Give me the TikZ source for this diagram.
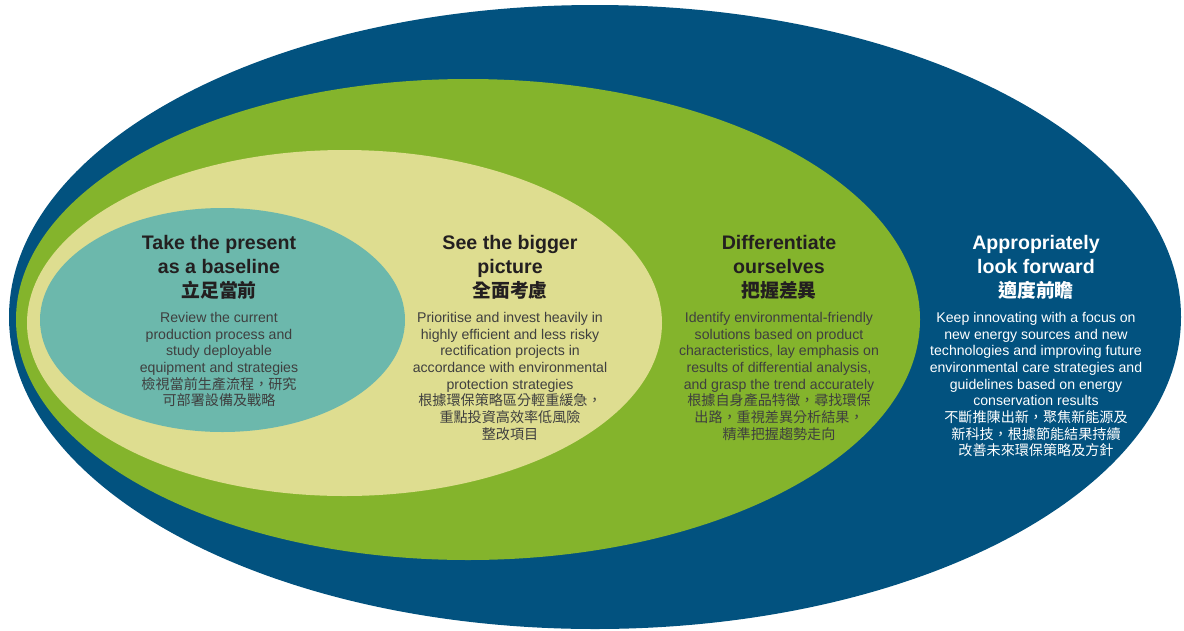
\documentclass[tikz,border=0pt]{standalone}
\usepackage{fontspec}
\setmainfont{Liberation Sans}
\newfontfamily\cjk{Noto Sans CJK TC}
\usetikzlibrary{positioning}

\definecolor{deepblue}{HTML}{02527F}
\definecolor{leafgreen}{HTML}{84B42C}
\definecolor{paleyellow}{HTML}{DEDD90}
\definecolor{seateal}{HTML}{6CB8AC}
\definecolor{inkgray}{HTML}{3F3F3F}
\definecolor{titleink}{HTML}{231F20}

\newcommand{\cjktitle}[1]{{\cjk\fontsize{18.8}{24}\selectfont #1}}

\begin{document}
\begin{tikzpicture}[x=1pt,y=-1pt,
	heading/.style={align=center,inner sep=0pt,anchor=north,text=titleink,
		font=\fontsize{19.6}{24}\selectfont\bfseries},
	blurb/.style={align=center,inner sep=0pt,text=inkgray,
		font=\fontsize{14.1}{16.7}\selectfont},
	onblue/.style={text=white}
	]
\useasboundingbox [fill=white] (0,0) rectangle (1184,630);

% the four rings, outside in
\fill [deepblue] (595,317) ellipse [x radius=586, y radius=312];
\fill [leafgreen] (468,319.5) ellipse [x radius=452, y radius=240.5];
\fill [paleyellow] (344.5,323) ellipse [x radius=317.5, y radius=173];
\fill [seateal] (222.5,320) ellipse [x radius=182.5, y radius=112];

\node [heading] (t1) at (219,235) {Take the present\\as a baseline\\\cjktitle{立足當前}};
\node [blurb] (b1) [below = 12.5pt of t1] {Review the current\\production process and\\study deployable\\equipment and strategies\\{\cjk 檢視當前生產流程，研究}\\{\cjk 可部署設備及戰略}};

\node [heading] (t2) at (510,235) {See the bigger\\picture\\\cjktitle{全面考慮}};
\node [blurb] (b2) [below = 12.5pt of t2] {Prioritise and invest heavily in\\highly efficient and less risky\\rectification projects in\\accordance with environmental\\protection strategies\\{\cjk 根據環保策略區分輕重緩急，}\\{\cjk 重點投資高效率低風險}\\{\cjk 整改項目}};

\node [heading] (t3) at (779,235) {Differentiate\\ourselves\\\cjktitle{把握差異}};
\node [blurb] (b3) [below = 12.5pt of t3] {Identify environmental-friendly\\solutions based on product\\characteristics, lay emphasis on\\results of differential analysis,\\and grasp the trend accurately\\{\cjk 根據自身產品特徵，尋找環保}\\{\cjk 出路，重視差異分析結果，}\\{\cjk 精準把握趨勢走向}};

\node [heading,onblue] (t4) at (1036,235) {Appropriately\\look forward\\\cjktitle{適度前瞻}};
\node [blurb,onblue] (b4) [below = 12.5pt of t4] {Keep innovating with a focus on\\new energy sources and new\\technologies and improving future\\environmental care strategies and\\guidelines based on energy\\conservation results\\{\cjk 不斷推陳出新，聚焦新能源及}\\{\cjk 新科技，根據節能結果持續}\\{\cjk 改善未來環保策略及方針}};
\end{tikzpicture}
\end{document}
